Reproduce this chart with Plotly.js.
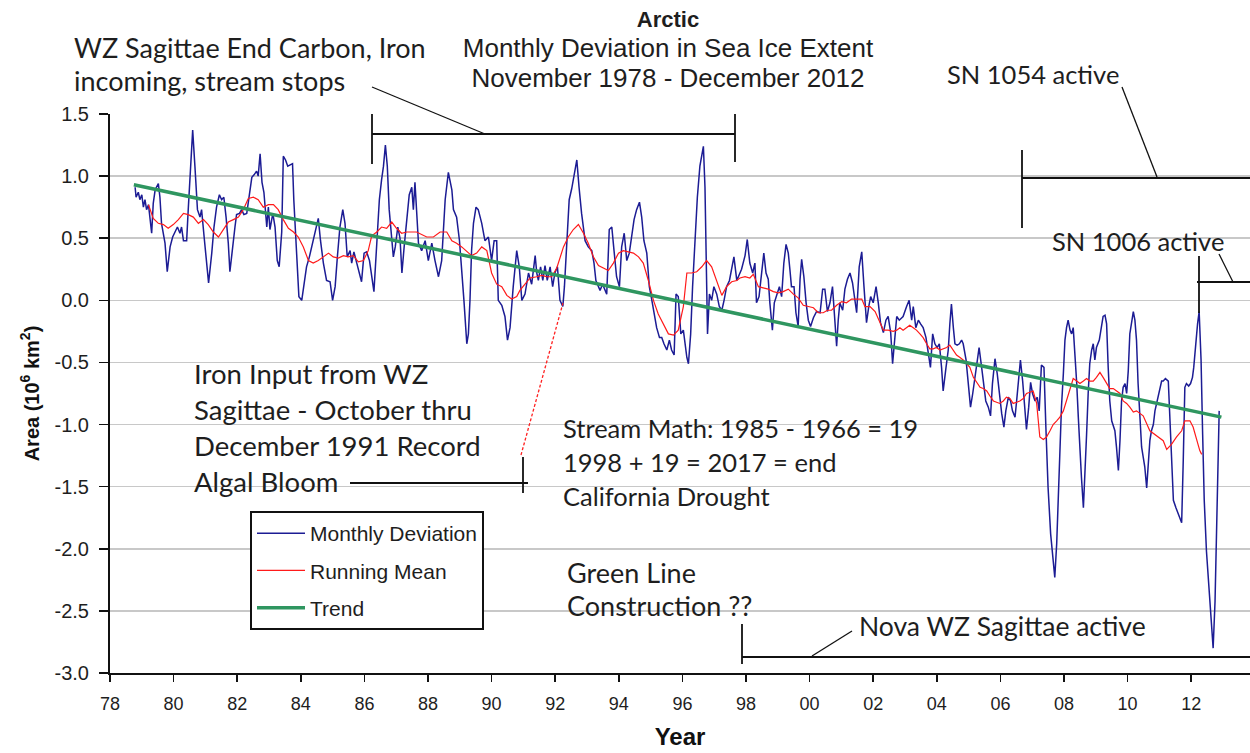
<!DOCTYPE html>
<html>
<head>
<meta charset="utf-8">
<script src="https://cdn.plot.ly/plotly-3.0.1.min.js"></script>
<style>html,body{margin:0;padding:0;background:#fff;}#chart{width:1250px;height:753px;}</style>
</head>
<body>
<div id="chart"></div>
<script>
// ---------- DATA ----------
// Monthly deviation [decimal year, 10^6 km^2]
const monthlyDeviation = [
[1978.79,0.91],[1978.82,0.83],[1978.89,0.87],[1978.94,0.81],[1979.00,0.85],[1979.05,0.75],[1979.10,0.81],[1979.15,0.73],[1979.21,0.77],[1979.26,0.65],
[1979.31,0.54],[1979.36,0.78],[1979.42,0.89],[1979.52,0.94],[1979.57,0.83],[1979.62,0.62],[1979.73,0.46],[1979.80,0.23],[1979.89,0.43],[1979.97,0.51],
[1980.04,0.55],[1980.12,0.59],[1980.20,0.54],[1980.25,0.59],[1980.31,0.48],[1980.41,0.48],[1980.46,0.73],[1980.54,1.10],[1980.60,1.37],[1980.67,1.08],
[1980.75,0.73],[1980.83,0.67],[1980.88,0.73],[1980.96,0.51],[1981.04,0.27],[1981.10,0.14],[1981.20,0.38],[1981.27,0.59],[1981.35,0.75],[1981.44,0.85],
[1981.51,0.81],[1981.58,0.83],[1981.65,0.67],[1981.72,0.46],[1981.77,0.23],[1981.86,0.46],[1981.93,0.59],[1981.98,0.69],[1982.07,0.70],[1982.14,0.73],
[1982.21,0.69],[1982.30,0.70],[1982.38,0.83],[1982.46,0.99],[1982.53,1.01],[1982.61,1.04],[1982.66,1.00],[1982.72,1.18],[1982.78,0.95],[1982.84,0.87],
[1982.93,0.59],[1982.98,0.75],[1983.03,0.57],[1983.12,0.70],[1983.19,0.59],[1983.26,0.32],[1983.32,0.27],[1983.40,0.55],[1983.45,1.16],[1983.52,1.13],
[1983.59,1.08],[1983.68,1.09],[1983.74,1.10],[1983.78,0.81],[1983.82,0.59],[1983.87,0.32],[1983.94,0.03],[1984.03,0.00],[1984.10,0.11],[1984.18,0.27],
[1984.27,0.35],[1984.39,0.48],[1984.50,0.59],[1984.55,0.66],[1984.62,0.48],[1984.71,0.30],[1984.81,0.16],[1984.92,0.15],[1985.00,0.00],[1985.08,0.11],
[1985.15,0.35],[1985.23,0.59],[1985.32,0.73],[1985.39,0.62],[1985.46,0.35],[1985.55,0.40],[1985.60,0.30],[1985.67,0.39],[1985.76,0.30],[1985.84,0.22],
[1985.91,0.15],[1985.99,0.38],[1986.07,0.39],[1986.16,0.32],[1986.23,0.19],[1986.30,0.07],[1986.39,0.46],[1986.47,0.81],[1986.54,0.97],[1986.60,1.08],
[1986.66,1.25],[1986.72,1.08],[1986.78,0.73],[1986.86,0.46],[1986.91,0.35],[1986.97,0.43],[1987.05,0.59],[1987.12,0.50],[1987.18,0.22],[1987.25,0.43],
[1987.33,0.67],[1987.41,0.85],[1987.49,0.91],[1987.54,0.73],[1987.59,0.95],[1987.64,0.73],[1987.70,0.46],
[1987.80,0.40],[1987.91,0.48],[1988.01,0.32],[1988.12,0.46],[1988.22,0.32],[1988.33,0.19],[1988.43,0.32],[1988.54,0.81],[1988.64,1.03],[1988.75,0.89],
[1988.80,0.73],[1988.90,0.67],[1988.99,0.48],[1989.06,0.27],[1989.13,0.00],[1989.22,-0.35],[1989.27,-0.27],[1989.32,0.00],[1989.37,0.40],[1989.43,0.62],
[1989.51,0.75],[1989.58,0.73],[1989.69,0.62],[1989.79,0.48],[1989.90,0.51],[1990.00,0.32],[1990.08,0.48],[1990.16,0.48],[1990.21,0.00],[1990.32,-0.04],
[1990.42,-0.13],[1990.50,-0.32],[1990.58,-0.22],[1990.68,0.11],[1990.79,0.40],[1990.87,0.27],[1990.95,0.00],[1991.05,0.05],[1991.16,0.22],[1991.26,0.13],
[1991.37,0.36],[1991.42,0.22],[1991.47,0.16],[1991.54,0.27],[1991.61,0.16],[1991.68,0.28],[1991.75,0.16],[1991.84,0.27],[1991.92,0.11],[1991.99,0.22],
[1992.07,0.27],[1992.15,0.00],[1992.24,-0.05],[1992.29,0.11],[1992.36,0.46],[1992.44,0.81],[1992.52,0.90],[1992.59,1.00],[1992.68,1.13],[1992.75,0.91],
[1992.83,0.70],[1992.94,0.48],[1993.04,0.43],[1993.15,0.40],[1993.22,0.30],[1993.28,0.16],[1993.36,0.11],[1993.41,0.08],[1993.49,0.13],[1993.57,0.08],
[1993.62,0.05],[1993.70,0.57],[1993.78,0.59],[1993.85,0.40],[1993.93,0.19],[1994.02,0.11],[1994.09,0.43],[1994.17,0.54],[1994.25,0.32],[1994.33,0.38],
[1994.41,0.54],[1994.48,0.65],[1994.56,0.73],[1994.65,0.79],[1994.72,0.67],[1994.79,0.48],[1994.88,0.38],[1994.96,0.11],[1995.04,0.00],[1995.11,-0.11],
[1995.19,-0.22],[1995.28,-0.30],[1995.35,-0.30],[1995.42,-0.35],[1995.51,-0.40],[1995.59,-0.32],[1995.66,-0.40],[1995.74,-0.44],[1995.80,0.05],[1995.87,0.03],
[1995.95,-0.27],[1996.03,-0.24],[1996.08,-0.35],[1996.14,-0.46],[1996.19,-0.51],[1996.26,-0.27],[1996.32,0.11],[1996.40,0.54],[1996.47,0.83],[1996.55,1.08],
[1996.62,1.21],[1996.66,1.24],[1996.71,0.91],[1996.74,0.32],[1996.79,-0.27],[1996.85,0.05],[1996.92,0.00],[1996.99,0.11],[1997.08,0.05],[1997.16,-0.05],
[1997.24,-0.08],[1997.31,0.00],[1997.39,0.11],[1997.48,0.16],[1997.55,0.27],[1997.62,0.35],[1997.71,0.16],
[1997.86,0.25],[1997.97,0.36],[1998.04,0.49],[1998.12,0.30],[1998.21,0.22],[1998.28,0.30],[1998.33,-0.02],[1998.41,0.03],[1998.49,0.25],[1998.56,0.38],
[1998.63,0.22],[1998.70,0.17],[1998.75,-0.02],[1998.83,-0.24],[1998.89,-0.02],[1998.96,0.03],[1999.05,0.11],[1999.12,0.03],[1999.19,0.30],[1999.26,0.45],
[1999.33,0.38],[1999.38,0.25],[1999.43,0.11],[1999.51,0.11],[1999.57,-0.10],[1999.64,-0.21],[1999.70,0.17],[1999.75,0.33],[1999.82,0.19],[1999.89,-0.02],
[1999.96,-0.16],[2000.03,-0.21],[2000.12,-0.14],[2000.22,-0.09],[2000.33,-0.10],[2000.41,0.09],[2000.48,0.09],[2000.56,-0.09],[2000.64,-0.02],[2000.72,0.11],
[2000.80,-0.24],[2000.85,-0.37],[2000.90,-0.16],[2000.95,-0.02],[2001.04,-0.08],[2001.11,0.09],[2001.19,0.17],[2001.27,0.22],[2001.35,0.14],[2001.43,-0.02],
[2001.48,-0.10],[2001.56,0.27],[2001.64,0.39],[2001.71,0.11],[2001.79,-0.18],[2001.86,-0.05],[2001.92,0.03],[2002.00,-0.02],[2002.09,0.11],[2002.16,-0.02],
[2002.23,-0.18],[2002.32,-0.26],[2002.40,-0.16],[2002.47,-0.13],[2002.55,-0.26],[2002.61,-0.51],[2002.68,-0.29],[2002.74,-0.13],[2002.82,-0.16],
[2002.94,-0.13],[2003.05,-0.05],[2003.13,0.00],[2003.21,-0.16],[2003.26,-0.05],[2003.34,-0.22],[2003.42,-0.16],[2003.49,-0.19],[2003.57,-0.22],[2003.66,-0.30],
[2003.73,-0.43],[2003.80,-0.54],[2003.87,-0.27],[2003.94,-0.35],[2004.01,-0.38],[2004.08,-0.35],[2004.15,-0.54],[2004.20,-0.73],[2004.29,-0.54],[2004.36,-0.40],
[2004.41,-0.19],[2004.46,-0.03],[2004.52,-0.22],[2004.57,-0.35],[2004.64,-0.36],[2004.71,-0.35],[2004.78,-0.32],[2004.83,-0.35],[2004.92,-0.48],[2004.99,-0.67],
[2005.06,-0.86],[2005.13,-0.75],[2005.20,-0.62],[2005.27,-0.46],[2005.33,-0.38],[2005.41,-0.54],[2005.48,-0.70],[2005.54,-0.81],[2005.62,-0.86],[2005.69,-0.93],
[2005.75,-0.67],[2005.83,-0.47],[2005.90,-0.59],[2005.96,-0.73],[2006.04,-0.91],[2006.11,-1.02],[2006.17,-0.89],[2006.25,-0.78],[2006.32,-0.81],[2006.38,-0.89],
[2006.46,-0.94],[2006.51,-0.81],[2006.56,-0.65],[2006.63,-0.48],[2006.70,-0.65],[2006.77,-0.89],[2006.82,-1.04],[2006.89,-0.86],[2006.95,-0.66],[2007.01,-0.75],
[2007.09,-0.81],[2007.16,-0.78],[2007.22,-0.89],[2007.29,-0.52],[2007.37,-0.54],[2007.43,-1.02],[2007.50,-1.51],[2007.58,-1.88],[2007.66,-2.10],[2007.71,-2.23],
[2007.77,-1.96],[2007.82,-1.61],[2007.87,-1.13],[2007.92,-0.86],[2007.98,-0.59],[2008.03,-0.32],[2008.08,-0.22],[2008.13,-0.16],[2008.19,-0.24],[2008.24,-0.27],
[2008.29,-0.22],[2008.34,-0.40],[2008.40,-0.67],[2008.45,-0.94],[2008.50,-1.21],[2008.55,-1.43],[2008.61,-1.67],[2008.66,-1.43],[2008.71,-1.08],[2008.76,-0.75],
[2008.81,-0.51],[2008.87,-0.40],[2008.92,-0.35],[2008.97,-0.48],[2009.02,-0.38],[2009.11,-0.32],[2009.18,-0.22],[2009.23,-0.13],[2009.29,-0.12],[2009.34,-0.19],
[2009.39,-0.54],[2009.44,-0.81],[2009.50,-0.97],[2009.55,-1.02],[2009.60,-1.05],[2009.65,-1.18],[2009.71,-1.37],[2009.76,-1.13],[2009.81,-0.81],[2009.86,-0.70],
[2009.92,-0.67],[2009.97,-0.75],[2010.02,-0.57],[2010.07,-0.27],[2010.13,-0.16],[2010.18,-0.09],[2010.23,-0.16],[2010.28,-0.32],[2010.33,-0.67],[2010.39,-0.94],
[2010.44,-1.18],[2010.49,-1.26],[2010.54,-1.34],[2010.60,-1.51],[2010.65,-1.29],[2010.70,-1.13],[2010.75,-1.05],[2010.81,-1.00],[2010.86,-0.89],[2010.91,-0.83],
[2010.99,-0.75],[2011.07,-0.65],[2011.12,-0.65],[2011.19,-0.63],[2011.28,-0.65],[2011.35,-1.13],[2011.44,-1.61],[2011.52,-1.67],[2011.60,-1.72],[2011.70,-1.79],
[2011.75,-1.29],[2011.80,-0.70],[2011.85,-0.67],[2011.92,-0.69],[2011.98,-0.67],[2012.04,-0.62],[2012.08,-0.54],[2012.15,-0.32],[2012.20,-0.19],[2012.25,-0.09],
[2012.31,-0.48],[2012.36,-1.08],[2012.41,-1.61],[2012.48,-2.02],[2012.57,-2.37],[2012.64,-2.63],[2012.69,-2.80],[2012.75,-2.42],[2012.80,-1.75],[2012.85,-1.08],
[2012.88,-0.89]
];

// Running mean [decimal year, 10^6 km^2]
const runningMean = [
[1979.21,0.77],[1979.36,0.66],[1979.52,0.62],[1979.68,0.61],[1979.83,0.58],[1979.99,0.61],[1980.15,0.65],[1980.31,0.70],[1980.46,0.69],[1980.62,0.67],
[1980.78,0.62],[1980.94,0.65],[1981.09,0.61],[1981.25,0.55],[1981.41,0.51],[1981.56,0.57],[1981.72,0.63],[1981.88,0.65],[1982.04,0.67],[1982.19,0.73],
[1982.35,0.82],[1982.51,0.83],[1982.66,0.81],[1982.82,0.75],[1982.98,0.77],[1983.14,0.77],[1983.29,0.73],[1983.45,0.65],[1983.61,0.58],[1983.77,0.55],
[1983.92,0.51],[1984.08,0.43],[1984.24,0.32],[1984.39,0.30],[1984.55,0.32],[1984.71,0.35],[1984.87,0.38],[1985.02,0.35],[1985.18,0.34],[1985.34,0.36],
[1985.49,0.35],[1985.65,0.36],[1985.81,0.31],[1985.97,0.32],[1986.12,0.40],[1986.23,0.52],[1986.39,0.55],[1986.54,0.59],[1986.70,0.58],[1986.86,0.63],
[1987.01,0.58],[1987.17,0.54],[1987.33,0.55],[1987.49,0.55],[1987.64,0.55],[1987.96,0.51],[1988.17,0.51],[1988.38,0.55],[1988.59,0.55],[1988.75,0.48],
[1988.90,0.46],[1989.06,0.43],[1989.22,0.39],[1989.37,0.36],[1989.53,0.38],[1989.69,0.43],[1989.85,0.40],[1990.00,0.22],[1990.16,0.13],[1990.32,0.11],
[1990.48,0.04],[1990.63,0.01],[1990.79,0.03],[1990.89,0.08],[1991.05,0.13],[1991.21,0.18],[1991.42,0.19],[1991.58,0.20],[1991.73,0.19],[1991.89,0.19],
[1992.05,0.26],[1992.15,0.35],[1992.26,0.43],[1992.41,0.51],[1992.57,0.57],[1992.73,0.61],[1992.89,0.54],[1993.04,0.46],[1993.20,0.35],[1993.36,0.28],
[1993.52,0.26],[1993.67,0.24],[1993.83,0.30],[1993.99,0.38],[1994.14,0.40],[1994.30,0.39],[1994.46,0.38],[1994.62,0.35],[1994.77,0.30],[1994.93,0.16],
[1995.09,0.00],[1995.24,-0.11],[1995.40,-0.19],[1995.56,-0.27],[1995.72,-0.28],[1995.87,-0.24],[1996.03,-0.05],[1996.14,0.22],[1996.29,0.22],[1996.45,0.23],
[1996.61,0.27],[1996.76,0.32],[1996.92,0.27],[1997.08,0.16],[1997.24,0.04],[1997.39,0.11],[1997.55,0.15],[1997.71,0.16],[1997.81,0.18],[1997.97,0.19],
[1998.12,0.18],[1998.23,0.21],[1998.39,0.11],[1998.54,0.10],[1998.70,0.09],[1998.86,0.07],[1999.02,0.06],[1999.17,0.07],[1999.33,0.09],[1999.49,0.05],
[1999.64,0.02],[1999.80,-0.04],[1999.96,-0.05],[2000.12,-0.06],[2000.27,-0.10],[2000.43,-0.10],[2000.56,-0.08],[2000.69,-0.08],[2000.85,-0.04],[2001.01,-0.01],
[2001.16,-0.02],[2001.32,0.01],[2001.48,0.01],[2001.64,0.01],[2001.74,-0.05],[2001.90,-0.05],[2002.06,-0.09],[2002.21,-0.18],[2002.32,-0.24],[2002.47,-0.24],
[2002.63,-0.25],[2002.74,-0.24],[2002.84,-0.22],[2002.94,-0.24],[2003.05,-0.22],[2003.15,-0.20],[2003.26,-0.22],[2003.36,-0.24],[2003.47,-0.27],[2003.57,-0.30],
[2003.68,-0.35],[2003.78,-0.39],[2003.89,-0.39],[2003.99,-0.38],[2004.10,-0.40],[2004.20,-0.39],[2004.31,-0.38],[2004.41,-0.36],[2004.52,-0.40],[2004.62,-0.44],
[2004.73,-0.46],[2004.83,-0.48],[2004.94,-0.51],[2005.04,-0.54],[2005.15,-0.62],[2005.25,-0.66],[2005.36,-0.70],[2005.46,-0.71],[2005.57,-0.73],[2005.67,-0.77],
[2005.78,-0.81],[2005.88,-0.82],[2005.98,-0.83],[2006.09,-0.81],[2006.19,-0.78],[2006.30,-0.79],[2006.40,-0.83],[2006.51,-0.82],[2006.61,-0.81],[2006.72,-0.79],
[2006.82,-0.75],[2006.93,-0.74],[2007.03,-0.73],[2007.14,-0.83],[2007.24,-1.10],[2007.35,-1.12],[2007.45,-1.10],[2007.56,-1.05],[2007.66,-1.00],[2007.77,-0.97],
[2007.87,-0.94],[2007.98,-0.89],[2008.08,-0.81],[2008.19,-0.71],[2008.29,-0.63],[2008.40,-0.65],[2008.50,-0.67],[2008.61,-0.65],[2008.71,-0.63],[2008.81,-0.65],
[2008.92,-0.65],[2009.02,-0.62],[2009.13,-0.58],[2009.23,-0.62],[2009.34,-0.67],[2009.44,-0.71],[2009.55,-0.71],[2009.65,-0.73],[2009.76,-0.75],[2009.86,-0.81],
[2009.97,-0.83],[2010.07,-0.86],[2010.18,-0.90],[2010.28,-0.89],[2010.39,-0.91],[2010.49,-0.93],[2010.70,-1.05],[2010.91,-1.09],[2011.12,-1.13],[2011.23,-1.20],
[2011.38,-1.16],[2011.54,-1.10],[2011.70,-1.05],[2011.80,-0.97],[2011.96,-0.97],[2012.06,-1.02],[2012.17,-1.13],[2012.27,-1.21],[2012.33,-1.24]
];

// Linear trend (end points)
const trendYears = [1978.75, 2012.95];
const trendValues = [0.93, -0.94];

// Axis ticks
const xTickYears = [1978,1980,1982,1984,1986,1988,1990,1992,1994,1996,1998,2000,2002,2004,2006,2008,2010,2012];
const xTickLabels = ['78','80','82','84','86','88','90','92','94','96','98','00','02','04','06','08','10','12'];
const yTickValues = [-3,-2.5,-2,-1.5,-1,-0.5,0,0.5,1,1.5];
const yTickLabels = ['-3.0','-2.5','-2.0','-1.5','-1.0','-0.5','0.0','0.5','1.0','1.5'];

const seriesNames = ['Monthly Deviation', 'Running Mean', 'Trend'];

// ---------- LAYOUT HELPERS (pixel -> paper) ----------
const W = 1250, H = 753, ML = 110, MR = 0, MT = 114, MB = 80;
const PW = W - ML - MR, PH = H - MT - MB;
const px = x => (x - ML) / PW;
const py = y => (MT + PH - y) / PH;

function note(text, x, yc, size) {
  return {text: text, xref: 'paper', yref: 'paper', x: px(x), y: py(yc), xanchor: 'left', yanchor: 'middle',
          showarrow: false, align: 'left',
          font: {family: 'Lato, "Open Sans", sans-serif', size: size, color: '#1e1e1e'}};
}
function seg(x0, y0, x1, y1, color, width, dash) {
  return {type: 'line', xref: 'paper', yref: 'paper', x0: px(x0), y0: py(y0), x1: px(x1), y1: py(y1),
          line: {color: color || '#111', width: width || 1.8, dash: dash || 'solid'}, layer: 'above'};
}
function cover(x0, y0, x1, y1) {
  return {type: 'rect', xref: 'paper', yref: 'paper', x0: px(x0), y0: py(y0), x1: px(x1), y1: py(y1),
          fillcolor: '#ffffff', line: {width: 0}, layer: 'between'};
}

const annotations = [
  note('WZ Sagittae End Carbon, Iron', 72, 47, 27),
  note('incoming, stream stops', 72, 80, 27),
  note('SN 1054 active', 945, 74, 25.5),
  note('SN 1006 active', 1050, 241, 25.5),
  note('Iron Input from WZ', 192, 373, 27.5),
  note('Sagittae - October thru', 192, 409, 27.5),
  note('December 1991 Record', 192, 445, 27.5),
  note('Algal Bloom', 192, 481, 27.5),
  note('Stream Math: 1985 - 1966 = 19', 561, 428, 25.5),
  note('1998 + 19 = 2017 = end', 561, 462, 25.5),
  note('California Drought', 561, 496, 25.5),
  note('Green Line', 565, 572, 27),
  note('Construction ??', 565, 605, 27),
  note('Nova WZ Sagittae active', 857, 626, 26.5)
];

const shapes = [
  // white text-box backgrounds that interrupt the gridlines
  cover(188, 352, 508, 500),
  cover(552, 410, 918, 505),
  cover(540, 530, 823, 562),
  cover(855, 600, 1153, 642),
  cover(1040, 228, 1236, 254),
  cover(ML + 1, 483, W, 489),
  // WZ Sagittae bracket
  seg(372, 114, 372, 164), seg(372, 134, 735, 134), seg(735, 114, 735, 162), seg(372, 87, 485, 134, '#111', 1.3),
  // SN 1054 bracket
  seg(1022, 150, 1022, 228), seg(1022, 178, W, 178), seg(1122, 87, 1157, 177, '#111', 1.3),
  // SN 1006 bracket
  seg(1199, 256, 1199, 313), seg(1197, 282, W, 282), seg(1219, 254, 1233, 282, '#111', 1.3),
  // Iron input leader
  seg(350, 483, 528, 483), seg(523, 457, 523, 493), seg(521, 455, 563, 303, '#ff2020', 1.3, '3px,2px'),
  // Nova bracket
  seg(742, 624, 742, 664), seg(742, 657, W, 657), seg(812, 656, 852, 631, '#111', 1.3)
];

const traces = [
  {x: monthlyDeviation.map(p => p[0]), y: monthlyDeviation.map(p => p[1]), name: seriesNames[0], type: 'scatter', mode: 'lines',
   line: {color: '#1c1c94', width: 1.5}, legendgroup: 'a'},
  {x: runningMean.map(p => p[0]), y: runningMean.map(p => p[1]), name: seriesNames[1], type: 'scatter', mode: 'lines',
   line: {color: '#ff1a1a', width: 1.2}, legendgroup: 'b'},
  {x: trendYears, y: trendValues, name: seriesNames[2], type: 'scatter', mode: 'lines',
   line: {color: '#2f9660', width: 3.5}, legendgroup: 'c'}
];

const SANS = '"Liberation Sans", Arial, sans-serif';
const X_FONT = {family: SANS, size: 18, color: '#1e1e1e'};
const Y_FONT = {family: SANS, size: 20, color: '#1e1e1e'};

const layout = {
  width: W, height: H,
  margin: {l: ML, r: MR, t: MT, b: MB, pad: 0},
  paper_bgcolor: '#ffffff', plot_bgcolor: '#ffffff',
  font: X_FONT,
  showlegend: true,
  hovermode: false,
  title: {
    text: '<span style="font-size:22px"><b>Arctic</b></span><br><span style="font-size:26px">Monthly Deviation in Sea Ice Extent</span><br><span style="font-size:26px">November 1978 - December 2012</span>',
    font: {family: SANS, size: 23, color: '#1e1e1e'},
    xref: 'container', yref: 'container', x: 668 / W, xanchor: 'center', y: 1 - 27 / H, yanchor: 'top'
  },
  xaxis: {
    range: [1978, 1978 + PW / 31.8], tickmode: 'array', tickvals: xTickYears, ticktext: xTickLabels,
    showgrid: false, zeroline: false, showline: true, linecolor: '#111', linewidth: 2,
    ticks: 'outside', ticklen: 7, tickwidth: 1.5, tickcolor: '#111', tickfont: X_FONT, ticklabelstandoff: 6,
    title: {text: '<b>Year</b>', font: {family: SANS, size: 24, color: '#111'}, standoff: 16}
  },
  yaxis: {
    range: [-3, 1.5], tickmode: 'array', tickvals: yTickValues, ticktext: yTickLabels,
    showgrid: true, gridcolor: '#c8c8c8', gridwidth: 1.5, zeroline: false,
    showline: true, linecolor: '#111', linewidth: 2,
    ticks: 'outside', ticklen: 9, tickwidth: 1.5, tickcolor: '#111', tickfont: Y_FONT, ticklabelstandoff: 6,
    title: {text: '<b>Area (10<sup>6</sup> km<sup>2</sup>)</b>', font: {family: SANS, size: 20, color: '#111'}, standoff: 10}
  },
  legend: {
    x: px(250), y: py(511), xanchor: 'left', yanchor: 'top',
    bgcolor: '#ffffff', bordercolor: '#111', borderwidth: 2,
    font: {family: SANS, size: 21, color: '#1e1e1e'},
    tracegroupgap: 7, traceorder: 'grouped', itemwidth: 48
  },
  annotations: annotations,
  shapes: shapes
};

Plotly.newPlot('chart', traces, layout, {displayModeBar: false, staticPlot: true});
</script>
</body>
</html>
